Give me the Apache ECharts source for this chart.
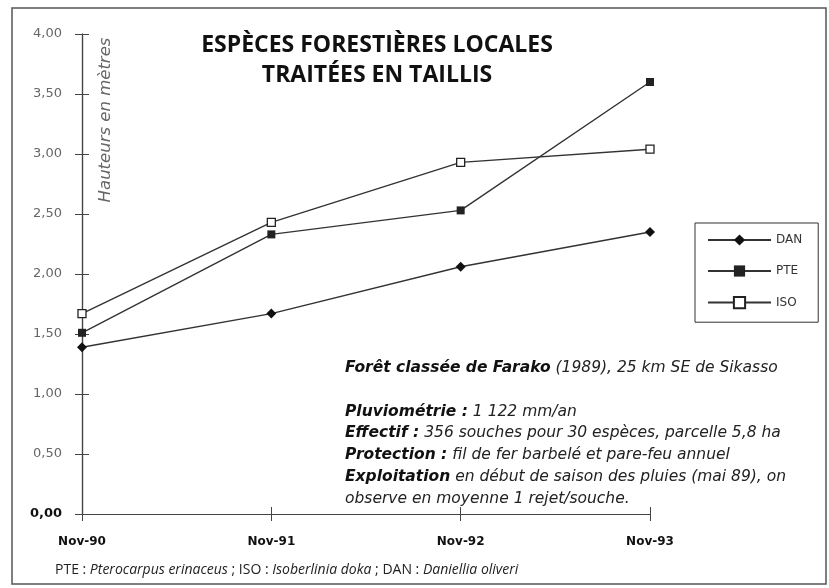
<!DOCTYPE html>
<html>
<head>
<meta charset="utf-8">
<script src="https://cdn.jsdelivr.net/npm/echarts@6/dist/echarts.min.js"></script>
<style>
  html, body { margin: 0; padding: 0; background: #fff; }
  #chart { width: 829px; height: 588px; }
</style>
</head>
<body>
<div id="chart"></div>
<script>
// données
const categories = ['Nov-90', 'Nov-91', 'Nov-92', 'Nov-93']
const dan = [1.39, 1.67, 2.06, 2.35]
const pte = [1.51, 2.33, 2.53, 3.60]
const iso = [1.67, 2.43, 2.93, 3.04]
const seriesNames = ['DAN', 'PTE', 'ISO']

const FONT = '"Open Sans", sans-serif'
const WIDE = '"DejaVu Sans", sans-serif'
const INK = '#333'

const chart = echarts.init(document.getElementById('chart'))

const commonLine = { color: INK, width: 1.4 }
const gridBox = { left: 82, right: 179, top: 34, bottom: 74 }

chart.setOption({
  animation: false,
  backgroundColor: '#fff',
  textStyle: { fontFamily: FONT },
  // deux grilles superposées : la 2e ne sert qu'aux ticks intérieurs (croix)
  grid: [Object.assign({}, gridBox), Object.assign({}, gridBox)],
  legend: {
    data: seriesNames,
    orient: 'vertical',
    left: 695,
    top: 223,
    padding: [11, 16, 13, 12],
    itemGap: 19,
    itemWidth: 63,
    itemHeight: 14,
    borderColor: INK,
    borderWidth: 1,
    textStyle: { fontFamily: WIDE, fontSize: 12, color: '#333' }
  },
  xAxis: [
    {
      type: 'category',
      gridIndex: 0,
      data: categories,
      boundaryGap: false,
      axisLine: { lineStyle: { color: '#444', width: 1.2 } },
      axisTick: { length: 7, lineStyle: { color: '#444' } },
      axisLabel: { margin: 22, fontFamily: WIDE, fontSize: 12, fontWeight: 'bold', color: '#111' },
      splitLine: { show: false }
    },
    {
      type: 'category',
      gridIndex: 1,
      data: categories,
      boundaryGap: false,
      axisLine: { show: true, lineStyle: { color: '#444', width: 1.2 } },
      axisTick: { show: true, inside: true, length: 7, lineStyle: { color: '#444' } },
      axisLabel: { show: false },
      splitLine: { show: false }
    }
  ],
  yAxis: [
    {
      type: 'value',
      gridIndex: 0,
      min: 0,
      max: 4,
      interval: 0.5,
      axisLine: { show: true, lineStyle: { color: '#444', width: 1.2 } },
      axisTick: { show: true, length: 7, lineStyle: { color: '#444' } },
      axisLabel: {
        margin: 20,
        fontFamily: WIDE,
        fontSize: 13,
        color: '#666',
        formatter: v => (v === 0 ? '{z|0,00}' : v.toFixed(2).replace('.', ',')),
        rich: { z: { fontFamily: WIDE, fontSize: 13, fontWeight: 'bold', color: '#111' } }
      },
      splitLine: { show: false }
    },
    {
      type: 'value',
      gridIndex: 1,
      min: 0,
      max: 4,
      interval: 0.5,
      axisLine: { show: true, lineStyle: { color: '#444', width: 1.2 } },
      axisTick: { show: true, inside: true, length: 7, lineStyle: { color: '#444' } },
      axisLabel: { show: false },
      splitLine: { show: false }
    }
  ],
  series: [
    {
      name: 'DAN', type: 'line', data: dan,
      symbol: 'diamond', symbolSize: 10,
      itemStyle: { color: '#111' },
      lineStyle: commonLine
    },
    {
      name: 'PTE', type: 'line', data: pte,
      symbol: 'rect', symbolSize: 8,
      itemStyle: { color: '#222' },
      lineStyle: commonLine
    },
    {
      name: 'ISO', type: 'line', data: iso,
      symbol: 'rect', symbolSize: 8,
      itemStyle: { color: '#fff', borderColor: '#222', borderWidth: 1.3 },
      lineStyle: commonLine
    },
    {
      // série invisible qui rattache les axes de la 2e grille
      name: 'ticks', type: 'line', data: dan,
      xAxisIndex: 1, yAxisIndex: 1,
      symbol: 'none', silent: true,
      lineStyle: { opacity: 0 },
      tooltip: { show: false }
    }
  ],
  graphic: [
    {
      type: 'rect', silent: true,
      shape: { x: 12, y: 8, width: 814, height: 576 },
      style: { fill: 'none', stroke: '#555', lineWidth: 1.5 }
    },
    {
      type: 'text', silent: true,
      style: {
        text: 'ESPÈCES FORESTIÈRES LOCALES\nTRAITÉES EN TAILLIS',
        x: 377, y: 31,
        align: 'center',
        verticalAlign: 'top',
        font: 'bold 23px ' + FONT,
        lineHeight: 29.5,
        fill: '#111'
      }
    },
    {
      type: 'text', silent: true,
      x: 106, y: 120,
      rotation: Math.PI / 2,
      style: {
        text: 'Hauteurs en mètres',
        x: 0, y: 0,
        align: 'center',
        verticalAlign: 'middle',
        font: 'italic 16.5px ' + WIDE,
        fill: '#666'
      }
    },
    {
      type: 'text', silent: true,
      style: {
        x: 345, y: 357,
        verticalAlign: 'top',
        text: [
          '{b|Forêt classée de Farako}{i| (1989), 25 km SE de Sikasso}',
          '{i| }',
          '{b|Pluviométrie :}{i| 1 122 mm/an}',
          '{b|Effectif :}{i| 356 souches pour 30 espèces, parcelle 5,8 ha}',
          '{b|Protection :}{i| fil de fer barbelé et pare-feu annuel}',
          '{b|Exploitation}{i| en début de saison des pluies (mai 89), on}',
          '{i|observe en moyenne 1 rejet/souche.}'
        ].join('\n'),
        rich: {
          b: { fontFamily: WIDE, fontSize: 15.5, fontStyle: 'italic', fontWeight: 'bold', fill: '#111', lineHeight: 21.8 },
          i: { fontFamily: WIDE, fontSize: 15.5, fontStyle: 'italic', fill: '#222', lineHeight: 21.8 }
        }
      }
    },
    {
      type: 'text', silent: true,
      style: {
        x: 55, y: 570,
        verticalAlign: 'middle',
        text: '{n|PTE : }{i|Pterocarpus erinaceus}{n| ; ISO : }{i|Isoberlinia doka}{n| ; DAN : }{i|Daniellia oliveri}',
        rich: {
          n: { fontFamily: FONT, fontSize: 14, fill: '#222' },
          i: { fontFamily: FONT, fontSize: 14, fontStyle: 'italic', fill: '#222' }
        }
      }
    }
  ]
})
</script>
</body>
</html>
